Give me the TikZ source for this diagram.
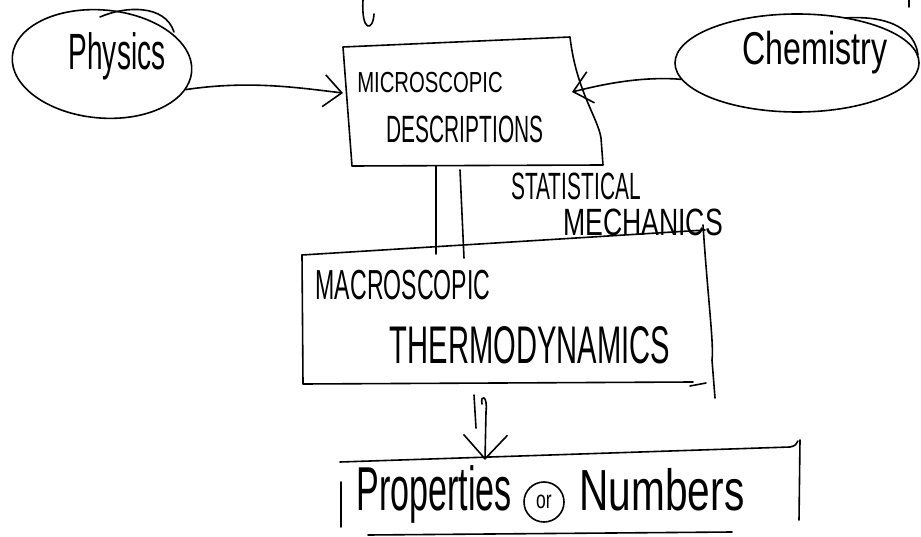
\documentclass[tikz,border=0pt]{standalone}
\usepackage{fontspec}
\newfontfamily\handA[FakeStretch=0.7]{Liberation Sans}
\newfontfamily\handB[FakeStretch=0.55]{Liberation Sans}
\usetikzlibrary{arrows.meta,shapes.geometric}
\begin{document}
\begin{tikzpicture}[x=1pt,y=-1pt, line width=1.6pt, line cap=round, line join=round,
  txt/.style={inner sep=0pt, anchor=base},
  oval/.style={ellipse, draw, inner sep=0pt},
  barbA/.style={-{Straight Barb[length=18pt,width=32pt]}},
  barbB/.style={-{Straight Barb[length=24pt,width=44pt]}}]
\useasboundingbox (0,0) rectangle (921,537);

% ---- top fragments (cut-off writing)
\draw (363,0) .. controls (361,32) and (373,32) .. (374,14);
\draw (909,0) -- (909,7);

% ---- Physics
\node[oval, minimum width=180pt, minimum height=108pt, rotate=-5] (phys) at (102,64) {};
\draw (100,17) .. controls (125,6) and (165,4) .. (174,32);
\node[txt] (physT) at (117,70) {\handB\fontsize{51}{51}\selectfont Physics};

% ---- Chemistry
\node[oval, minimum width=244pt, minimum height=98pt] (chem) at (797,63) {};
\draw (845,18) .. controls (890,15) and (915,30) .. (918,55);
\node[txt] (chemT) at (815,65) {\handA\fontsize{46}{46}\selectfont Chemistry};

% ---- Microscopic box
\coordinate (mTL) at (343,47);
\coordinate (mTR) at (570,37);
\coordinate (mBR) at (603,165);
\coordinate (mBL) at (352,166);
\coordinate (mL) at (343,93);
\coordinate (mR) at (572,92);
\draw (mTL) -- (mTR) .. controls (576,90) and (598,118) .. (601,138) -- (mBR) -- (mBL) -- (mTL);
\node[txt] (micT) at (430,93) {\handA\fontsize{29}{29}\selectfont MICROSCOPIC};
\node[txt] (desT) at (465,143) {\handB\fontsize{38}{38}\selectfont DESCRIPTIONS};

% ---- arrows into microscopic box
\draw[barbA] (phys.-12) .. controls (250,80) and (300,88) .. (mL);
\draw[barbA] (chem.188) .. controls (640,76) and (600,85) .. (mR);

% ---- statistical mechanics link
\coordinate (s1a) at (436,166);
\coordinate (s1b) at (436,254);
\coordinate (s2a) at (460,170);
\coordinate (s2b) at (464,258);
\draw (s1a) -- (s1b);
\draw (s2a) -- (s2b);
\node[txt] (statT) at (576,200) {\handB\fontsize{38}{38}\selectfont STATISTICAL};
\node[txt] (mechT) at (643,236) {\handA\fontsize{38}{38}\selectfont MECHANICS};

% ---- Macroscopic box
\coordinate (aTL) at (302,255);
\coordinate (aTR) at (705,230);
\coordinate (aBL) at (303,384);
\coordinate (aBR) at (693,382);
\draw (aTL) -- (aTR);
\draw (aTL) -- (aBL) -- (aBR);
\draw (703,225) .. controls (708,300) and (714,345) .. (712,360) -- (715,398);
\draw (690,386) -- (706,383);
\node[txt] (macT) at (403,300) {\handB\fontsize{42}{42}\selectfont MACROSCOPIC};
\node[txt] (therT) at (530,363) {\handB\fontsize{53}{53}\selectfont THERMODYNAMICS};

% ---- double arrow
\coordinate (d1a) at (474,395);
\coordinate (d1b) at (476,428);
\coordinate (d2a) at (482,404);
\coordinate (tip) at (485,460);
\draw (d1a) -- (d1b);
\draw[barbB] (d2a) .. controls (480,394) and (488,395) .. (486,412) -- (tip);

% ---- Properties box
\draw (340,462) -- (790,447) .. controls (795,446) and (797,444) .. (798,441);
\draw (341,482) -- (341,527);
\draw (800,440) -- (799,520);
\draw (368,535) -- (732,532);
\node[txt] (propT) at (434,510) {\handB\fontsize{62}{62}\selectfont Properties};
\node[circle, draw, minimum size=40pt, inner sep=0pt, font=\handA\fontsize{25}{25}\selectfont] (orT) at (544,502) {or};
\node[txt] (numT) at (662,510) {\handA\fontsize{58}{58}\selectfont Numbers};
\end{tikzpicture}
\end{document}
